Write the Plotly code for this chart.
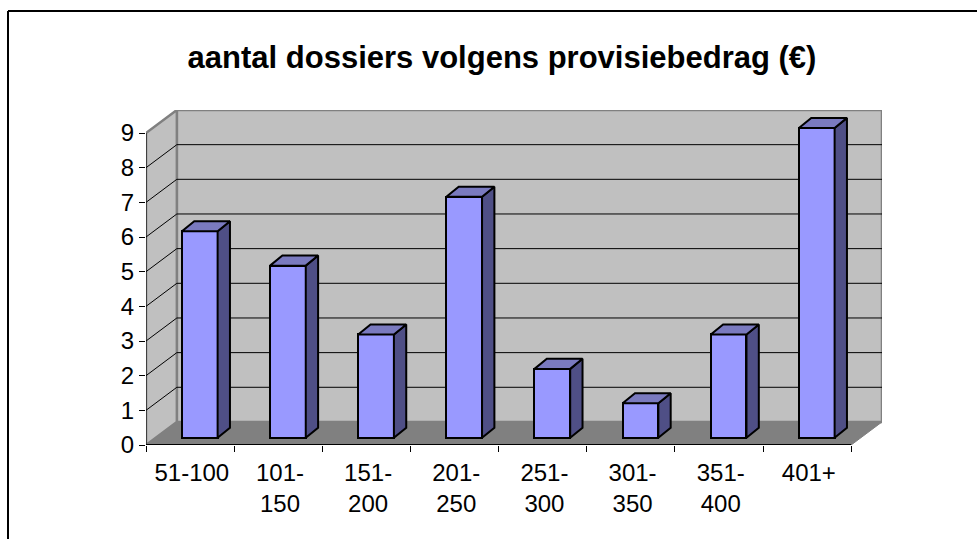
import plotly.graph_objects as go

categories = ["51-100", "101-<br>150", "151-<br>200", "201-<br>250",
              "251-<br>300", "301-<br>350", "351-<br>400", "401+"]
dossiers = [6, 5, 3, 7, 2, 1, 3, 9]
y_ticks = [0, 1, 2, 3, 4, 5, 6, 7, 8, 9]

# fake 3d look of the old excel chart, all in axis units
wall_dx = 0.35   # depth of the walls
wall_dy = 0.665
bar_dx = 0.14    # depth of one bar
bar_dy = 0.29
bar_base = 0.21  # bars stand a little inside the floor
bar_shift = 0.61
bar_width = 0.405
bar_scale = 0.993

n_cat = len(categories)
y_max = y_ticks[-1]

fig = go.Figure()

# front of the bars
centers = [i + bar_shift for i in range(n_cat)]
fig.add_trace(go.Bar(
    x=centers, y=[v * bar_scale for v in dossiers], base=bar_base, width=bar_width,
    marker=dict(color='#9999FF', line=dict(color='#000000', width=2)),
    showlegend=False, hoverinfo='skip'
))

# side and top of the bars
for c, v in zip(centers, dossiers):
    left = c - bar_width / 2
    right = c + bar_width / 2
    low = bar_base
    top = bar_base + v * bar_scale
    fig.add_trace(go.Scatter(
        x=[right, right + bar_dx, right + bar_dx, right, right],
        y=[low, low + bar_dy, top + bar_dy, top, low],
        fill='toself', fillcolor='#4F4F86', mode='lines',
        line=dict(color='#000000', width=2), showlegend=False, hoverinfo='skip'
    ))
    fig.add_trace(go.Scatter(
        x=[left, left + bar_dx, right + bar_dx, right, left],
        y=[top, top + bar_dy, top + bar_dy, top, top],
        fill='toself', fillcolor='#7A7ABF', mode='lines',
        line=dict(color='#000000', width=2), showlegend=False, hoverinfo='skip'
    ))


def poly(points):
    return "M " + " L ".join(f"{x} {y}" for x, y in points) + " Z"


shapes = []
# back wall, left wall and floor
shapes.append(dict(type='path', layer='below', line=dict(color='#808080', width=2.5), fillcolor='#C0C0C0',
                   path=poly([(wall_dx, wall_dy), (n_cat + wall_dx, wall_dy),
                              (n_cat + wall_dx, y_max + wall_dy), (wall_dx, y_max + wall_dy)])))
shapes.append(dict(type='path', layer='below', line=dict(color='#808080', width=2.5), fillcolor='#C0C0C0',
                   path=poly([(0, 0), (wall_dx, wall_dy), (wall_dx, y_max + wall_dy), (0, y_max)])))
shapes.append(dict(type='path', layer='below', line=dict(color='#808080', width=1), fillcolor='#808080',
                   path=poly([(0, 0), (n_cat, 0), (n_cat + wall_dx, wall_dy), (wall_dx, wall_dy)])))

# grid lines run along the left wall and over the back wall
for t in y_ticks[1:-1]:
    shapes.append(dict(type='path', layer='below', line=dict(color='#000000', width=1),
                       path=f"M 0 {t} L {wall_dx} {t + wall_dy} L {n_cat + wall_dx} {t + wall_dy}"))

# axis lines
shapes.append(dict(type='line', layer='below', x0=0, x1=0, y0=0, y1=y_max, line=dict(color='#000000', width=1)))
shapes.append(dict(type='line', layer='above', x0=0, x1=n_cat, y0=0, y1=0, line=dict(color='#000000', width=2)))

# frame of the picture, only top and left are visible
plot_w = 977 - 146 - 95
plot_h = 539 - 110 - 94
frame_x = (8 - 146) / plot_w
frame_y = 1 + (110 - 11) / plot_h
frame_right = (977 - 146) / plot_w
frame_bottom = -94 / plot_h
shapes.append(dict(type='line', xref='paper', yref='paper', x0=frame_x, x1=frame_right,
                   y0=frame_y, y1=frame_y, line=dict(color='#000000', width=2)))
shapes.append(dict(type='line', xref='paper', yref='paper', x0=frame_x, x1=frame_x,
                   y0=frame_y, y1=frame_bottom, line=dict(color='#000000', width=2)))

axis_font = dict(family='Liberation Sans', size=24, color='#000000')

fig.update_layout(
    width=977, height=539, autosize=False,
    margin=dict(l=146, r=95, t=110, b=94),
    paper_bgcolor='#FFFFFF', plot_bgcolor='rgba(0,0,0,0)',
    shapes=shapes, bargap=0,
    title=dict(text='<b>aantal dossiers volgens provisiebedrag (€)</b>',
               font=dict(family='Liberation Sans', size=31, color='#000000'),
               xref='container', yref='container', x=502 / 977, y=1 - 57 / 539,
               xanchor='center', yanchor='middle'),
    xaxis=dict(range=[0, n_cat + wall_dx], tickvals=[i + 0.52 for i in range(n_cat)],
               ticktext=categories, ticks='', showgrid=False, zeroline=False, showline=False,
               tickfont=axis_font, tickangle=0, ticklabelstandoff=11,
               minor=dict(tickvals=list(range(n_cat + 1)), ticks='outside', ticklen=6,
                          tickwidth=1, tickcolor='#000000', showgrid=False)),
    yaxis=dict(range=[0, y_max + wall_dy], tickvals=y_ticks, ticks='outside', ticklen=6,
               tickwidth=1, tickcolor='#000000', showgrid=False, zeroline=False, showline=False,
               tickfont=axis_font),
)

fig.write_html("out.html", config=dict(displayModeBar=False),
               post_script="document.body.style.margin='0';")
